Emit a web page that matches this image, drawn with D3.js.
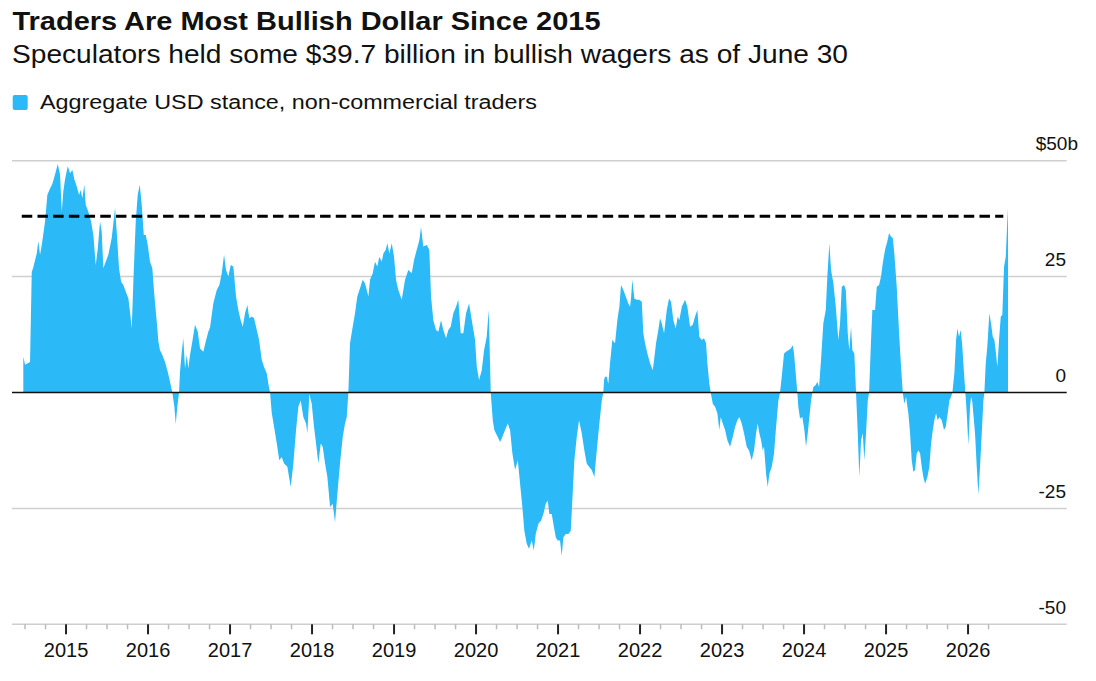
<!DOCTYPE html>
<html><head><meta charset="utf-8">
<script src="https://cdn.jsdelivr.net/npm/d3@7"></script>
<style>
body{margin:0;background:#fff}
text{font-family:"Liberation Sans",Arial,Helvetica,sans-serif;fill:#111}
</style>
</head><body>
<svg id="chart" width="1096" height="681"></svg>
<script>
const titleText = "Traders Are Most Bullish Dollar Since 2015";
const subtitleText = "Speculators held some $39.7 billion in bullish wagers as of June 30";
const legendText = "Aggregate USD stance, non-commercial traders";

const dates = [
2014.479,2014.500,2014.561,2014.582,2014.601,2014.643,2014.662,2014.683,2014.704,2014.744,
2014.772,2014.805,2014.833,2014.866,2014.899,2014.927,2014.948,2014.967,2014.988,2015.021,
2015.049,2015.077,2015.101,2015.130,2015.159,2015.179,2015.199,2015.223,2015.240,2015.272,
2015.305,2015.333,2015.362,2015.387,2015.415,2015.435,2015.455,2015.484,2015.516,2015.557,
2015.598,2015.618,2015.646,2015.671,2015.699,2015.728,2015.760,2015.780,2015.801,2015.821,
2015.850,2015.874,2015.899,2015.923,2015.948,2015.972,2015.996,2016.024,2016.052,2016.077,
2016.106,2016.126,2016.146,2016.174,2016.207,2016.240,2016.268,2016.296,2016.321,2016.338,
2016.357,2016.378,2016.390,2016.411,2016.430,2016.451,2016.472,2016.491,2016.512,2016.540,
2016.573,2016.606,2016.634,2016.674,2016.704,2016.735,2016.756,2016.796,2016.838,2016.870,
2016.899,2016.927,2016.951,2016.979,2017.009,2017.040,2017.073,2017.101,2017.130,2017.155,
2017.183,2017.211,2017.235,2017.265,2017.293,2017.326,2017.354,2017.387,2017.415,2017.448,
2017.467,2017.488,2017.509,2017.537,2017.570,2017.601,2017.630,2017.659,2017.699,2017.740,
2017.772,2017.805,2017.833,2017.862,2017.894,2017.927,2017.943,2017.967,2017.996,2018.024,
2018.049,2018.077,2018.106,2018.130,2018.159,2018.187,2018.220,2018.252,2018.280,2018.309,
2018.341,2018.374,2018.402,2018.423,2018.443,2018.463,2018.496,2018.524,2018.552,2018.585,
2018.618,2018.646,2018.667,2018.687,2018.707,2018.740,2018.768,2018.796,2018.821,2018.850,
2018.870,2018.899,2018.918,2018.943,2018.972,2019.000,2019.024,2019.052,2019.094,2019.134,
2019.174,2019.216,2019.244,2019.277,2019.309,2019.329,2019.357,2019.399,2019.430,2019.451,
2019.479,2019.512,2019.540,2019.573,2019.601,2019.634,2019.662,2019.691,2019.723,2019.756,
2019.784,2019.813,2019.845,2019.878,2019.915,2019.948,2019.988,2020.009,2020.037,2020.070,
2020.098,2020.130,2020.155,2020.179,2020.204,2020.223,2020.265,2020.293,2020.321,2020.354,
2020.387,2020.415,2020.443,2020.476,2020.509,2020.537,2020.565,2020.589,2020.618,2020.646,
2020.679,2020.704,2020.728,2020.760,2020.793,2020.821,2020.850,2020.874,2020.894,2020.923,
2020.943,2020.972,2020.996,2021.024,2021.045,2021.065,2021.094,2021.126,2021.155,2021.174,
2021.199,2021.228,2021.256,2021.289,2021.321,2021.350,2021.378,2021.411,2021.443,2021.472,
2021.500,2021.533,2021.552,2021.561,2021.573,2021.594,2021.613,2021.634,2021.662,2021.695,
2021.723,2021.748,2021.768,2021.796,2021.826,2021.857,2021.878,2021.890,2021.906,2021.930,
2021.960,2021.991,2022.021,2022.040,2022.061,2022.089,2022.122,2022.155,2022.171,2022.195,
2022.223,2022.244,2022.265,2022.293,2022.326,2022.354,2022.378,2022.406,2022.435,2022.460,
2022.479,2022.509,2022.549,2022.577,2022.610,2022.643,2022.671,2022.699,2022.723,2022.752,
2022.780,2022.805,2022.821,2022.845,2022.862,2022.887,2022.915,2022.943,2022.967,2022.984,
2023.009,2023.037,2023.065,2023.098,2023.130,2023.159,2023.187,2023.211,2023.240,2023.268,
2023.301,2023.329,2023.362,2023.390,2023.415,2023.435,2023.455,2023.476,2023.496,2023.512,
2023.537,2023.557,2023.577,2023.606,2023.634,2023.659,2023.687,2023.707,2023.728,2023.756,
2023.780,2023.809,2023.838,2023.862,2023.878,2023.902,2023.918,2023.930,2023.951,2023.979,
2024.004,2024.024,2024.045,2024.065,2024.085,2024.101,2024.113,2024.143,2024.162,2024.183,
2024.207,2024.235,2024.265,2024.284,2024.309,2024.329,2024.357,2024.387,2024.418,2024.439,
2024.460,2024.488,2024.509,2024.533,2024.552,2024.573,2024.589,2024.613,2024.634,2024.655,
2024.674,2024.695,2024.716,2024.735,2024.756,2024.777,2024.793,2024.817,2024.833,2024.866,
2024.887,2024.915,2024.939,2024.960,2024.988,2025.016,2025.037,2025.061,2025.082,2025.101,
2025.130,2025.159,2025.183,2025.204,2025.223,2025.244,2025.272,2025.293,2025.313,2025.333,
2025.354,2025.374,2025.394,2025.415,2025.435,2025.455,2025.476,2025.504,2025.528,2025.549,
2025.570,2025.589,2025.610,2025.630,2025.650,2025.679,2025.707,2025.728,2025.752,2025.772,
2025.793,2025.809,2025.833,2025.854,2025.870,2025.890,2025.911,2025.930,2025.951,2025.967,
2025.984,2026.004,2026.024,2026.037,2026.052,2026.085,2026.106,2026.126,2026.146,2026.167,
2026.187,2026.199,2026.216,2026.235,2026.260,2026.280,2026.301,2026.321,2026.341,2026.357,
2026.378,2026.399,2026.418,2026.439,2026.460,2026.479,2026.487
];

const values = [
7.7,6,6.6,26,27,30,32.6,29.7,31.8,36.9,
42.6,44,45,47,49.3,47,39,43.4,46,48.8,
47.3,48,46,44.5,42.6,43.7,41.9,44.8,40.5,39,
36.9,34,27.5,31,36.9,34.7,26.8,28.2,29.7,33.3,
39.8,34.7,26.8,23.9,23.2,21.8,20.3,17.4,13.8,23.9,
36.9,42.6,44.8,40.5,34,34,31.8,28.2,26.8,21,
15.3,11,9.1,8.1,6.6,4.5,2.3,0,-3,-6.8,
-3,0,4.5,8.8,11.7,5.2,8.1,5.2,8.1,11,
14.6,13.1,9.5,8.8,11,13.1,14,19.2,22.1,23.2,
25.7,29.7,26.4,25,27.5,27.2,20.7,17.8,15.6,14.2,
17.1,18.9,16,16.4,16,13.5,11.3,7,5.5,4.1,
1.9,0,-4.5,-7.4,-11,-14.6,-13.9,-15.3,-16,-20.4,
-15.3,-8.1,-3.1,-1.7,-5.3,-6.7,-8.8,-0.3,-2.4,-7.4,
-11,-15.3,-11,-11.7,-15.3,-18.2,-24.7,-24,-28,-21.8,
-15.3,-9.6,-6.7,-5.3,0,10.6,14.2,17.1,20.7,22.5,
24.3,23.5,22.1,20.7,24.3,25.7,28.2,27.2,29.3,28.2,
30,30.8,32.2,30,32.2,29.3,24.3,22.1,20,24.3,
26.4,25.7,28.6,30.8,32.9,35.7,31.5,31.8,30.8,20.7,
15.6,13.5,13.1,15.6,13.5,11.7,13.5,14.2,17.1,18.5,
20,12.8,12.8,17.1,19.2,15.6,11.3,5.5,2.7,4.8,
9.1,12,17.8,0,-6,-8.1,-9.6,-10.7,-9.6,-8.1,
-6.7,-8.1,-13.1,-16.7,-14.6,-19.7,-24.7,-29.8,-32.6,-33.7,
-31.9,-34.1,-30.5,-28.3,-27.6,-26.2,-24,-23.3,-26.2,-26.2,
-28.3,-31.2,-31.9,-31.9,-35.2,-31.2,-30.5,-30.5,-29.8,-23.3,
-14.6,-9.6,-6,-8.8,-12.5,-15.3,-16,-16.7,-18.2,-12.5,
-7.4,-1.7,0,2.7,3.4,3.4,1.9,6.3,11.3,10.6,
15.6,18.5,23.2,22.1,20.7,19.2,18.5,20.3,24.3,20.3,
20,20,19.6,12.8,10.6,8.4,6.3,4.8,7,10.6,
13.5,16,14.9,12.8,17.8,20.3,19.6,15.6,13.8,16.4,
15.6,18.5,20,18.5,14.2,14.6,16.4,17.8,12,11.3,
11.7,10.6,6.3,1.9,0,-2.4,-3.1,-4.5,-8.1,-5.3,
-6.7,-8.1,-10.3,-11.7,-9.6,-7.4,-6,-5.3,-6.7,-8.8,
-11.7,-12.5,-14.6,-12.5,-8.8,-6.7,-8.8,-10.3,-12.5,-11.7,
-17.5,-20.4,-17.5,-16,-13.1,-7.4,-1.7,0,3.4,8.4,
8.8,9.1,9.5,10.2,8.4,3.4,0,-3.1,-5.6,-5.3,
-8.1,-11.7,-8.8,-5.3,-1.7,0,1.2,1.6,2.3,1.2,
7,14.9,17.8,25,32.2,26.4,23.6,18.5,11.3,14.9,
22.8,23.2,22.1,12.8,9.1,14.2,9.1,8.4,0,-8.8,
-18.2,-10.3,-8.8,-14.6,-8.8,-1.7,0,11.3,17.8,17.8,
22.8,23.2,25,27.9,30.8,32.6,34.4,33.6,33.3,30,
22.8,12.8,5.5,0,-2.4,-0.9,-4.5,-8.8,-14.6,-17.1,
-16.7,-13.1,-12.5,-13.1,-16,-18.2,-19.7,-18.2,-16,-11,
-8.1,-6,-4.5,-6,-5.3,-6,-8.1,-7.4,-4.5,-1.7,
-0.9,0,4.1,11.3,13.8,12,13.5,9.9,4.1,0,
-4.5,-11.4,-3,-0.9,-2,-8.8,-16,-22,-16,-8.8,
-1.7,0,6.3,9.9,17.1,14.9,12,11.3,8.4,5.5,
11.3,16.4,16.7,27.2,29.3,37.2,39.7
];

const yTicks = [-50, -25, 0, 25, 50];
const yTickLabels = ["-50", "-25", "0", "25", "$50b"];
const xYears = [2015,2016,2017,2018,2019,2020,2021,2022,2023,2024,2025,2026];
const xMinorTicks = d3.range(2014.5, 2026.26, 0.25).filter(t => t % 1 !== 0);
const refLevel = 38;          // dashed reference: prior high
const refSpan = [2014.46, 2026.43];
const seriesColor = "#2bb9f7";

const svg = d3.select("#chart");
const x = d3.scaleLinear().domain([2014.341, 2027.203]).range([12, 1066.7]);
const y = d3.scaleLinear().domain([-50, 50]).range([624.3, 160.7]);

// Title block
svg.append("text").attr("x", 12.5).attr("y", 30)
  .attr("font-size", 25.5).attr("font-weight", "bold")
  .attr("textLength", 588).attr("lengthAdjust", "spacingAndGlyphs")
  .text(titleText);
svg.append("text").attr("x", 12).attr("y", 63)
  .attr("font-size", 25.5)
  .attr("textLength", 836).attr("lengthAdjust", "spacingAndGlyphs")
  .text(subtitleText);
svg.append("rect").attr("x", 12.7).attr("y", 95).attr("width", 15).attr("height", 15)
  .attr("rx", 2).attr("fill", seriesColor);
svg.append("text").attr("x", 40).attr("y", 108.5)
  .attr("font-size", 19.5)
  .attr("textLength", 497).attr("lengthAdjust", "spacingAndGlyphs")
  .text(legendText);

// Gridlines
svg.append("g").selectAll("line").data(yTicks.filter(d => d !== 0)).join("line")
  .attr("x1", x.range()[0]).attr("x2", x.range()[1])
  .attr("y1", d => y(d)).attr("y2", d => y(d))
  .attr("stroke", "#cfcfcf").attr("stroke-width", 1.5);

// Y labels
svg.append("g").selectAll("text").data(yTicks).join("text")
  .attr("x", (d, i) => yTickLabels[i].includes("b") ? 1078 : 1066)
  .attr("y", d => y(d) - 10.5)
  .attr("text-anchor", "end").attr("font-size", 19)
  .text((d, i) => yTickLabels[i]);

// Area
const area = d3.area().x((d, i) => x(dates[i])).y0(y(0)).y1((d, i) => y(values[i]));
svg.append("path").datum(values).attr("d", area).attr("fill", seriesColor);

// Zero line
svg.append("line").attr("x1", x.range()[0]).attr("x2", x.range()[1])
  .attr("y1", y(0)).attr("y2", y(0)).attr("stroke", "#111").attr("stroke-width", 1.5);

// Dashed reference line
svg.append("line").attr("x1", x(refSpan[0])).attr("x2", x(refSpan[1]))
  .attr("y1", y(refLevel)).attr("y2", y(refLevel))
  .attr("stroke", "#000").attr("stroke-width", 3).attr("stroke-dasharray", "10.5,5.2");

// X axis ticks
const base = y(-50);
svg.append("g").selectAll("line").data(xMinorTicks).join("line")
  .attr("x1", d => x(d)).attr("x2", d => x(d)).attr("y1", base).attr("y2", base + 5)
  .attr("stroke", "#bbb").attr("stroke-width", 1.5);
svg.append("g").selectAll("line").data(xYears).join("line")
  .attr("x1", d => x(d)).attr("x2", d => x(d)).attr("y1", base).attr("y2", base + 10)
  .attr("stroke", "#222").attr("stroke-width", 2);
svg.append("g").selectAll("text").data(xYears).join("text")
  .attr("x", d => x(d)).attr("y", 656.7)
  .attr("text-anchor", "middle").attr("font-size", 20)
  .text(d => d);
</script>
</body></html>
